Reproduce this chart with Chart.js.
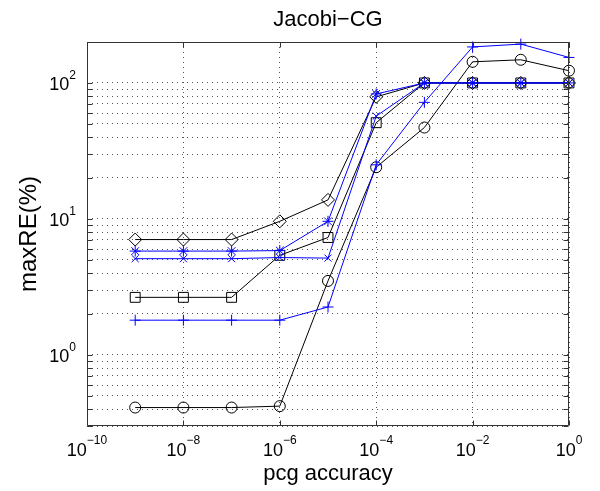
<!DOCTYPE html>
<html>
<head>
<meta charset="utf-8">
<script src="https://cdn.jsdelivr.net/npm/chart.js@4/dist/chart.umd.min.js"></script>
<style>
  html, body { margin: 0; padding: 0; background: #fff; }
  #wrap { width: 600px; height: 491px; }
</style>
</head>
<body>
<div id="wrap"><canvas id="chart"></canvas></div>
<script>
// pcg accuracy (x) and maxRE(%) for each run
const accuracy = [1e-9, 1e-8, 1e-7, 1e-6, 1e-5, 1e-4, 1e-3, 1e-2, 1e-1, 1];
const circleRE  = [0.41, 0.41, 0.41, 0.42, 3.5, 24, 47, 143, 148, 123];
const squareRE  = [2.65, 2.65, 2.65, 5.4, 7.3, 51, 100, 100, 100, 100];
const diamondRE = [7.05, 7.05, 7.05, 9.6, 13.8, 79, 100, 100, 100, 100];
const plusRE    = [1.8, 1.8, 1.8, 1.8, 2.25, 25, 72, 184, 193, 154];
const crossRE   = [5.1, 5.1, 5.1, 5.2, 5.15, 57, 100, 100, 100, 100];
const starRE    = [5.8, 5.8, 5.8, 5.85, 9.6, 83, 100, 100, 100, 100];

// tick labels (10^exp)
const xTickValues = [1e-10, 1e-8, 1e-6, 1e-4, 1e-2, 1];
const xTickExps = ['\u221210', '\u22128', '\u22126', '\u22124', '\u22122', '0'];
const yTickValues = [1, 10, 100];
const yTickExps = ['0', '1', '2'];

const yMin = 0.3, yMax = 200;

// minor grid values for the log y axis
const yGridValues = [];
for (let d = 0.1; d <= 100; d *= 10) {
  for (let m = 1; m <= 9; m++) {
    const v = +(m * d).toPrecision(3);
    if (v >= yMin && v <= yMax) yGridValues.push(v);
  }
}
yGridValues.push(yMax);

const BLACK = '#000000';
const BLUE = '#0000ff';

function series(values, color, style, radius, order) {
  return {
    data: accuracy.map((x, i) => ({ x: x, y: values[i] })),
    borderColor: color,
    borderWidth: 1,
    backgroundColor: 'transparent',
    pointStyle: style,
    pointRadius: radius,
    pointHoverRadius: radius,
    pointBorderColor: color,
    pointBackgroundColor: 'transparent',
    pointBorderWidth: 1,
    tension: 0,
    clip: false,
    order: order
  };
}

// MATLAB style box, inward ticks and 10^n labels
const matlabAxes = {
  id: 'matlabAxes',
  afterDraw(chart) {
    const { ctx, chartArea: a, scales } = chart;
    const x = scales.x, y = scales.y;
    const L = Math.round(a.left) + 0.5, R = Math.round(a.right) - 0.5;
    const T = Math.round(a.top) + 0.5, B = Math.round(a.bottom) - 0.5;
    ctx.save();
    ctx.strokeStyle = '#333';
    ctx.lineWidth = 1;
    ctx.setLineDash([]);
    ctx.beginPath();
    ctx.rect(L, T, R - L, B - T);
    const tl = 5;
    yGridValues.forEach(v => {
      const py = Math.round(y.getPixelForValue(v)) + 0.5;
      ctx.moveTo(L, py); ctx.lineTo(L + tl, py);
      ctx.moveTo(R, py); ctx.lineTo(R - tl, py);
    });
    xTickValues.forEach(v => {
      const px = Math.round(x.getPixelForValue(v)) + 0.5;
      ctx.moveTo(px, B); ctx.lineTo(px, B - tl);
      ctx.moveTo(px, T); ctx.lineTo(px, T + tl);
    });
    ctx.stroke();

    ctx.fillStyle = '#000';
    ctx.textBaseline = 'alphabetic';
    const baseFont = '18px "Liberation Sans", Arial, sans-serif';
    const expFont = '12px "Liberation Sans", Arial, sans-serif';

    // y labels
    yTickValues.forEach((v, i) => {
      const py = y.getPixelForValue(v);
      ctx.font = expFont;
      const ew = ctx.measureText(yTickExps[i]).width;
      const right = a.left - 11;
      ctx.textAlign = 'left';
      ctx.fillText(yTickExps[i], right - ew, py - 4);
      ctx.font = baseFont;
      ctx.textAlign = 'right';
      ctx.fillText('10', right - ew, py + 7);
    });

    // x labels
    xTickValues.forEach((v, i) => {
      const px = x.getPixelForValue(v);
      ctx.font = baseFont;
      const bw = ctx.measureText('10').width;
      ctx.font = expFont;
      const ew = ctx.measureText(xTickExps[i]).width;
      const start = px - (bw + ew) / 2;
      ctx.textAlign = 'left';
      ctx.font = baseFont;
      ctx.fillText('10', start, a.bottom + 30);
      ctx.font = expFont;
      ctx.fillText(xTickExps[i], start + bw, a.bottom + 18);
    });
    ctx.restore();
  }
};

Chart.defaults.font.family = '"Liberation Sans", Arial, sans-serif';
Chart.defaults.color = '#000';

const ctx = document.getElementById('chart').getContext('2d');
new Chart(ctx, {
  type: 'line',
  data: {
    datasets: [
      series(circleRE, BLACK, 'circle', 5.5, 2),
      series(squareRE, BLACK, 'rect', 7, 2),
      series(diamondRE, BLACK, 'rectRot', 6.5, 2),
      series(plusRE, BLUE, 'cross', 5.5, 1),
      series(crossRE, BLUE, 'crossRot', 5, 1),
      series(starRE, BLUE, 'star', 5.5, 1)
    ]
  },
  options: {
    responsive: true,
    maintainAspectRatio: false,
    animation: false,
    events: [],
    layout: { padding: { top: 0, right: 31, bottom: 0, left: 0 } },
    plugins: {
      legend: { display: false },
      tooltip: { enabled: false },
      title: {
        display: true,
        fullSize: false,
        text: 'Jacobi\u2212CG',
        color: '#000',
        font: { size: 22, weight: 'normal' },
        padding: { top: 7, bottom: 8.6 }
      }
    },
    scales: {
      x: {
        type: 'logarithmic',
        min: 1e-10,
        max: 1,
        afterBuildTicks(scale) {
          scale.ticks = xTickValues.map(v => ({ value: v }));
        },
        afterFit(scale) { scale.height = 65; },
        ticks: { display: false },
        grid: { color: '#555', lineWidth: 1, drawTicks: false },
        border: { display: false, dash: [1, 4] },
        title: {
          display: true,
          text: 'pcg accuracy',
          color: '#000',
          font: { size: 22 },
          padding: { top: 0, bottom: 4 }
        }
      },
      y: {
        type: 'logarithmic',
        min: yMin,
        max: yMax,
        afterBuildTicks(scale) {
          scale.ticks = yGridValues.map(v => ({ value: v }));
        },
        afterFit(scale) { scale.width = 87; },
        ticks: { display: false },
        grid: { color: '#555', lineWidth: 1, drawTicks: false },
        border: { display: false, dash: [1, 4] },
        title: {
          display: true,
          text: 'maxRE(%)',
          color: '#000',
          font: { size: 24 },
          padding: { top: 15, bottom: 0 }
        }
      }
    }
  },
  plugins: [matlabAxes]
});
</script>
</body>
</html>
